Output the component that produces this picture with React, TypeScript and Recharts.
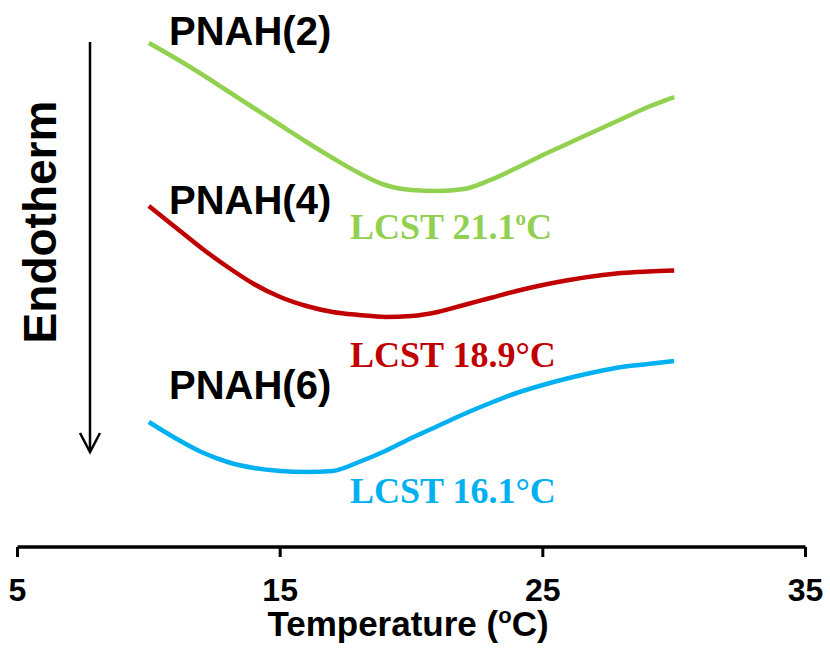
import React from 'react'
import { LineChart, Line, XAxis, YAxis, Customized } from 'recharts'

// temperature (°C) of each DSC reading
const temperature = [10, 11, 12, 13, 14, 15, 16, 17, 18, 19, 20, 21, 22, 23, 24, 25, 26, 27, 28, 29, 30]

// heat flow, arbitrary units (curves are offset vertically)
const pnah2 = [10.08, 9.78, 9.46, 9.12, 8.78, 8.44, 8.1, 7.78, 7.48, 7.24, 7.14, 7.12, 7.16, 7.34, 7.58, 7.84, 8.08, 8.32, 8.56, 8.8, 9.0]
const pnah4 = [6.82, 6.4, 5.98, 5.6, 5.26, 5.0, 4.82, 4.7, 4.64, 4.6, 4.62, 4.7, 4.84, 4.98, 5.12, 5.24, 5.34, 5.42, 5.48, 5.51, 5.53]
const pnah6 = [2.5, 2.18, 1.9, 1.7, 1.58, 1.52, 1.5, 1.52, 1.7, 1.92, 2.18, 2.42, 2.66, 2.88, 3.08, 3.24, 3.38, 3.5, 3.6, 3.66, 3.72]

const xTicks = [5, 15, 25, 35]

const data = temperature.map((t, i) => ({
  t,
  pnah2: pnah2[i],
  pnah4: pnah4[i],
  pnah6: pnah6[i],
}))

const GREEN = '#92D050'
const RED = '#C00000'
const BLUE = '#00B0F0'
const SANS = '"Liberation Sans", Arial, sans-serif'
const SERIF = '"Liberation Serif", "Times New Roman", serif'

const Annotations = () => (
  <g>
    {/* endotherm arrow */}
    <line x1={90} y1={42} x2={90} y2={451} stroke="#000" strokeWidth={2.5} />
    <polyline points="80,433 90,452 100,433" fill="none" stroke="#000" strokeWidth={2.5} />
    <text
      transform="translate(56,222) rotate(-90)"
      textAnchor="middle"
      fontFamily={SANS}
      fontWeight="bold"
      fontSize={46}
      fill="#000"
    >
      Endotherm
    </text>

    {/* series names */}
    <g fontFamily={SANS} fontWeight="bold" fontSize={40} fill="#000">
      <text x={169} y={45}>PNAH(2)</text>
      <text x={169} y={214}>PNAH(4)</text>
      <text x={169} y={399}>PNAH(6)</text>
    </g>

    {/* LCST values */}
    <g fontFamily={SERIF} fontWeight="bold" fontSize={36}>
      <text x={350} y={239} fill={GREEN}>
        LCST 21.1<tspan fontSize={21} dy={-14}>o</tspan>
        <tspan dy={14}>C</tspan>
      </text>
      <text x={350} y={367} fill={RED}>LCST 18.9°C</text>
      <text x={350} y={503} fill={BLUE}>LCST 16.1°C</text>
    </g>

    {/* axis title */}
    <text x={408} y={636} textAnchor="middle" fontFamily={SANS} fontWeight="bold" fontSize={35} fill="#000">
      Temperature (<tspan fontSize={22} dy={-13}>o</tspan>
      <tspan dy={13}>C)</tspan>
    </text>
  </g>
)

export default function App() {
  return (
    <div style={{ width: 830, height: 652, background: '#fff' }}>
      <style>{'body{margin:0}'}</style>
      <LineChart
        width={830}
        height={652}
        data={data}
        margin={{ top: 22, right: 24.5, bottom: 5, left: 17.5 }}
      >
        <XAxis
          type="number"
          dataKey="t"
          domain={[5, 35]}
          ticks={xTicks}
          height={100}
          axisLine={{ stroke: '#000', strokeWidth: 3.5 }}
          tickLine={{ stroke: '#000', strokeWidth: 3 }}
          tickSize={10}
          tickMargin={21}
          tick={{ fill: '#000', fontSize: 32, fontWeight: 'bold', fontFamily: SANS }}
        />
        <YAxis type="number" domain={[0, 10.5]} hide />
        <Line type="monotone" dataKey="pnah2" stroke={GREEN} strokeWidth={4.5} dot={false} isAnimationActive={false} />
        <Line type="monotone" dataKey="pnah4" stroke={RED} strokeWidth={4.5} dot={false} isAnimationActive={false} />
        <Line type="monotone" dataKey="pnah6" stroke={BLUE} strokeWidth={4.5} dot={false} isAnimationActive={false} />
        <Customized component={Annotations} />
      </LineChart>
    </div>
  )
}
